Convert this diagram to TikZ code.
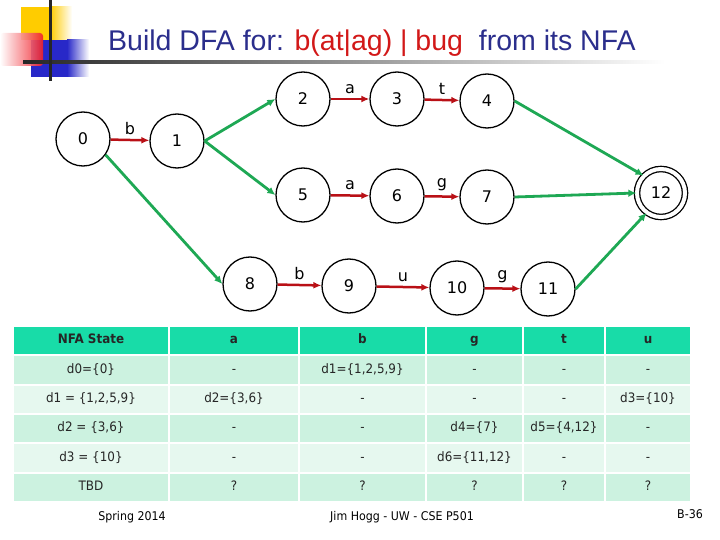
\documentclass[tikz,border=0pt]{standalone}
\usepackage{fontspec}
\setmainfont{DejaVu Sans}
\newfontfamily\titlefont{Liberation Sans}
\newfontfamily\tabfont[FakeStretch=0.92]{DejaVu Sans}
\usepackage{xcolor}
\usepackage{tikz}
\usetikzlibrary{arrows.meta}
\definecolor{TitleNavy}{RGB}{43, 46, 140}
\definecolor{TitleRed}{RGB}{210, 24, 24}
\definecolor{MoveRed}{RGB}{185, 16, 22}
\definecolor{EpsGreen}{RGB}{30, 168, 84}
\definecolor{HeadTeal}{RGB}{24, 220, 168}
\definecolor{RowDark}{RGB}{204, 242, 224}
\definecolor{RowLight}{RGB}{230, 248, 239}
\definecolor{DecoYellow}{RGB}{255, 204, 0}
\definecolor{DecoBlue}{RGB}{40, 40, 200}
\definecolor{DecoRed}{RGB}{240, 30, 40}

% one row of the table: row, fill, six cells
\newcommand{\tabrow}[8]{%
    \pgfmathsetmacro{\rowy}{340.5+29.4*#1}
    \node[cell, fill=#2, minimum width=154pt] (r#1c1) at (91,\rowy) {#3};
    \node[cell, fill=#2, minimum width=128pt] (r#1c2) at (234,\rowy) {#4};
    \node[cell, fill=#2, minimum width=125pt] (r#1c3) at (362.5,\rowy) {#5};
    \node[cell, fill=#2, minimum width=95pt] (r#1c4) at (474.5,\rowy) {#6};
    \node[cell, fill=#2, minimum width=80pt] (r#1c5) at (564,\rowy) {#7};
    \node[cell, fill=#2, minimum width=84pt] (r#1c6) at (648,\rowy) {#8};
}

\begin{document}
\begin{tikzpicture}[x=1pt, y=-1pt,
    state/.style={circle, draw, line width=1.3pt, minimum size=54pt, inner sep=0pt,
        font=\fontsize{16}{18}\selectfont},
    accept/.style={state, double, double distance=4pt, minimum size=48pt},
    move/.style={MoveRed, line width=2.5pt, -{Latex[length=8pt, width=7pt]}},
    eps/.style={EpsGreen, line width=2.8pt, -{Latex[length=8pt, width=7.5pt]}},
    lbl/.style={midway, above=1pt, text=black, font=\fontsize{16}{18}\selectfont},
    cell/.style={rectangle, inner sep=0pt, minimum height=27.5pt, text=black!85,
        text height=9.5pt, text depth=3pt, font=\tabfont\fontsize{13}{15}\selectfont},
    foot/.style={font=\tabfont\fontsize{12}{14}\selectfont}]
    \useasboundingbox (0,0) rectangle (720,540);

    % slide decoration
    \fill[DecoYellow] (21,7) rectangle (50,40);
    \shade[left color=DecoYellow, right color=white] (50,7) rectangle (72,40);
    \fill[DecoBlue] (31,40) rectangle (67,77);
    \shade[left color=DecoBlue, right color=white] (67,40) rectangle (89,77);
    \shade[left color=white, right color=DecoRed, opacity=0.9, rounded corners=3pt] (0,33) rectangle (43,66);
    \shade[left color=black!85, right color=white] (23,60.5) rectangle (665,63.5);
    \fill[black!85] (48.5,0) rectangle (51.5,81);

    \node[anchor=base west, inner sep=0pt, font=\titlefont\fontsize{28.5}{32}\selectfont] (title) at (108,51)
        {\textcolor{TitleNavy}{Build DFA for: }\textcolor{TitleRed}{b(at|ag) | bug}\textcolor{TitleNavy}{\ \ from its NFA}};

    % NFA
    \node[state] (n0) at (83,139) {0};
    \node[state] (n1) at (177,141) {1};
    \node[state] (n2) at (303,99) {2};
    \node[state] (n3) at (397,99) {3};
    \node[state] (n4) at (487,101) {4};
    \node[state] (n5) at (303,195) {5};
    \node[state] (n6) at (397,196) {6};
    \node[state] (n7) at (487,197) {7};
    \node[state] (n8) at (250,284) {8};
    \node[state] (n9) at (349,286) {9};
    \node[state] (n10) at (457,288) {10};
    \node[state] (n11) at (548,289) {11};
    \node[accept] (n12) at (661,193) {12};

    \draw[move] (n0) -- node[lbl] {b} (n1);
    \draw[move] (n2) -- node[lbl] {a} (n3);
    \draw[move] (n3) -- node[lbl] {t} (n4);
    \draw[move] (n5) -- node[lbl] {a} (n6);
    \draw[move] (n6) -- node[lbl] {g} (n7);
    \draw[move] (n8) -- node[lbl] {b} (n9);
    \draw[move] (n9) -- node[lbl] {u} (n10);
    \draw[move] (n10) -- node[lbl] {g} (n11);

    \draw[eps] (n1.east) -- (n2.west);
    \draw[eps] (n1.east) -- (n5.west);
    \draw[eps] (n0.-35) -- (n8.west);
    \draw[eps] (n4.east) -- (n12.135);
    \draw[eps] (n7.east) -- (n12.west);
    \draw[eps] (n11.east) -- (n12.-126);

    % subset table
    \tabrow{0}{HeadTeal}{\bfseries NFA State}{\bfseries a}{\bfseries b}{\bfseries g}{\bfseries t}{\bfseries u}
    \tabrow{1}{RowDark}{d0=\{0\}}{-}{d1=\{1,2,5,9\}}{-}{-}{-}
    \tabrow{2}{RowLight}{d1 = \{1,2,5,9\}}{d2=\{3,6\}}{-}{-}{-}{d3=\{10\}}
    \tabrow{3}{RowDark}{d2 = \{3,6\}}{-}{-}{d4=\{7\}}{d5=\{4,12\}}{-}
    \tabrow{4}{RowLight}{d3 = \{10\}}{-}{-}{d6=\{11,12\}}{-}{-}
    \tabrow{5}{RowDark}{TBD}{?}{?}{?}{?}{?}

    \node[foot] (spring) at (132,517) {Spring 2014};
    \node[foot] (author) at (402,517) {Jim Hogg - UW - CSE P501};
    \node[foot] (page) at (690,514) {B-36};
\end{tikzpicture}
\end{document}
